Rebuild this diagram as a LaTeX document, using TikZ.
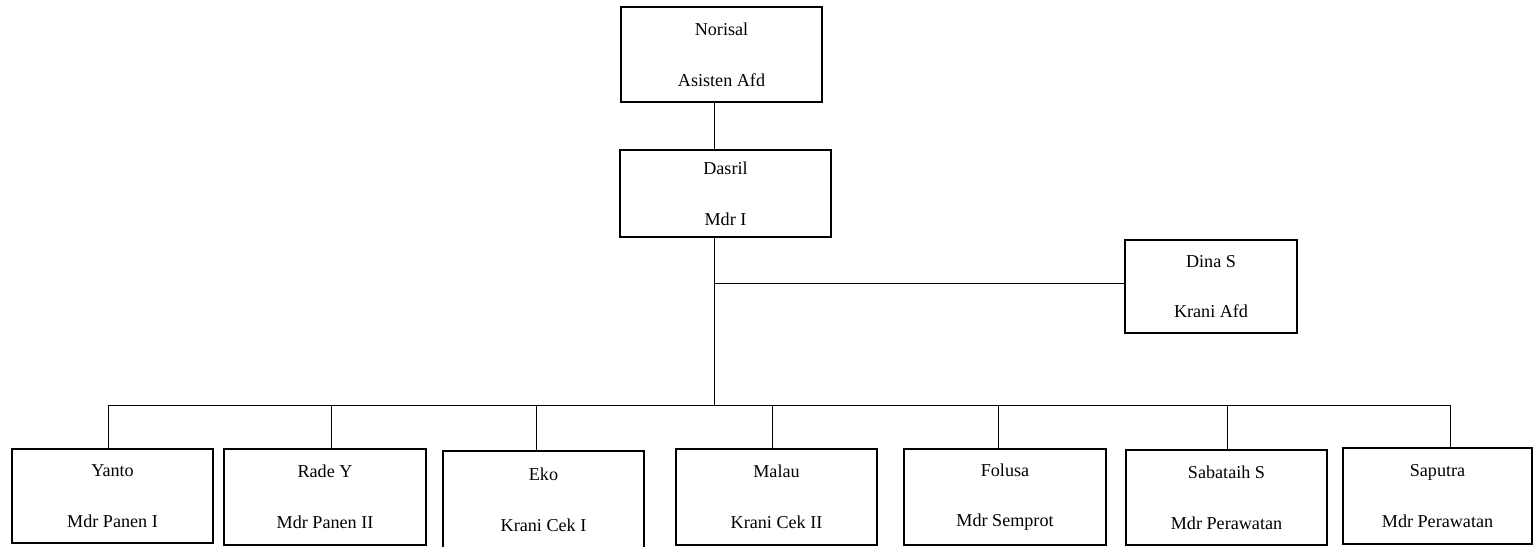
\documentclass[tikz,border=0pt]{standalone}
\usepackage{fontspec}
\setmainfont{Liberation Serif}

\begin{document}
\begin{tikzpicture}[x=0.75pt,y=-0.75pt,
  box/.style 2 args={rectangle,draw,line width=1.4pt,align=center,
    minimum width=#1*0.75pt,minimum height=#2*0.75pt,
    font=\fontsize{13.6}{38}\selectfont},
  link/.style={draw,line width=0.7pt}]
\useasboundingbox (0,0) rectangle (1537,546);
\node [box={201}{95}] (norisal) at (721.5,54.5) {Norisal\\Asisten Afd};
\node [box={211}{87}] (dasril) at (725.5,193.5) {Dasril\\Mdr I};
\node [box={172}{93}] (dina) at (1211,286.5) {Dina S\\Krani Afd};
\node [box={201}{94}] (yanto) at (112.5,496) {Yanto\\Mdr Panen I};
\node [box={202}{96}] (rade) at (325,497) {Rade Y\\Mdr Panen II};
\node [box={201}{97}] (eko) at (543.5,499.5) {Eko\\Krani Cek I};
\node [box={201}{96}] (malau) at (776.5,497) {Malau\\Krani Cek II};
\node [box={202}{96}] (folusa) at (1005,497) {Folusa\\Mdr Semprot};
\node [box={201}{95}] (sabataih) at (1226.5,497.5) {Sabataih S\\Mdr Perawatan};
\node [box={189}{96}] (saputra) at (1437.5,496) {Saputra\\Mdr Perawatan};
\coordinate (hub) at (714,283);
\coordinate (bus) at (714,405);
\draw [link] (norisal.south -| hub) -- (dasril.north -| hub);
\draw [link] (dasril.south -| hub) -- (bus);
\draw [link] (hub) -- (hub -| dina.west);
\foreach \n/\x in {yanto/108,rade/331,eko/536,malau/772,folusa/998,sabataih/1227,saputra/1450}
{
  \coordinate (t\n) at (\x,405);
  \draw [link] (t\n) -- (t\n |- \n.north);
}
\draw [link] (tyanto) -- (tsaputra);
\end{tikzpicture}
\end{document}
